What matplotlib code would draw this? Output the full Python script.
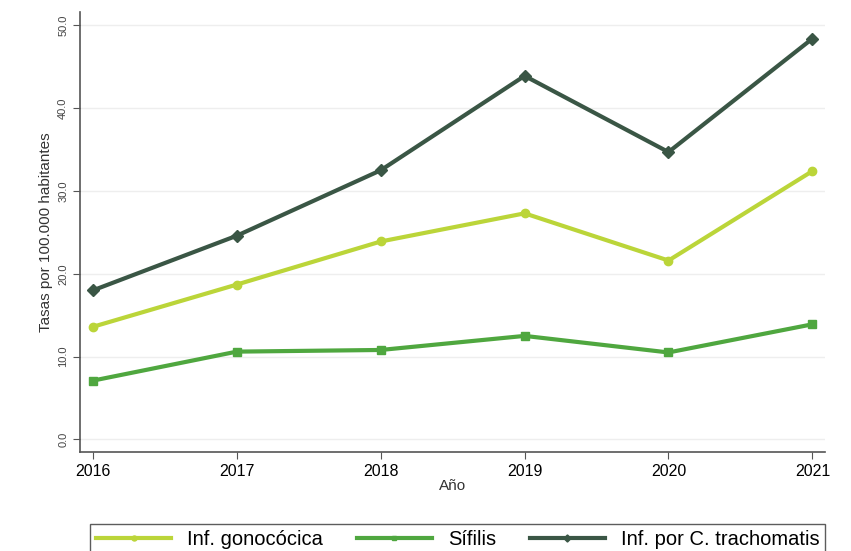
import numpy as np
import matplotlib
matplotlib.use('Agg')
from matplotlib import pyplot as plt

plt.rcParams['font.family'] = ['Liberation Sans Narrow', 'Liberation Sans', 'DejaVu Sans']

anios = [2016, 2017, 2018, 2019, 2020, 2021]
gonococica = [13.6, 18.7, 23.9, 27.3, 21.6, 32.4]
sifilis = [7.1, 10.6, 10.8, 12.5, 10.5, 13.9]
trachomatis = [18.0, 24.6, 32.5, 43.9, 34.7, 48.4]

series = [
    ('Inf. gonocócica', gonococica, '#bbd539', 'o'),
    ('Sífilis', sifilis, '#4fa73f', 's'),
    ('Inf. por C. trachomatis', trachomatis, '#3a5645', 'D'),
]

fig = plt.figure(figsize=(8.51, 5.51), dpi=100)
ax = fig.add_axes([0.094, 0.18, 0.875, 0.798])

for nombre, valores, color, marca in series:
    ax.plot(anios, valores, color=color, lw=3, marker=marca, ms=6,
            label=nombre)

ax.set_ylim(-1.5, 51.6)
ax.set_xlim(2015.91, 2021.085)
ax.set_yticks([0, 10, 20, 30, 40, 50])
ax.set_yticklabels(['0.0', '10.0', '20.0', '30.0', '40.0', '50.0'],
                   rotation=90, va='center', fontsize=8, color='#444444')
ax.set_xticks(anios)
ax.tick_params(axis='x', labelsize=11.5, length=5, color='#555555')
ax.tick_params(axis='y', length=5, color='#555555')
ax.grid(axis='y', color='#eeeeee', lw=1)
ax.set_axisbelow(True)
for s in ['top', 'right']:
    ax.spines[s].set_visible(False)
for s in ['left', 'bottom']:
    ax.spines[s].set_color('#555555')
    ax.spines[s].set_linewidth(1.2)

ax.set_ylabel('Tasas por 100.000 habitantes', fontsize=11, color='#333333')
ax.set_xlabel('Año', fontsize=11, color='#333333', labelpad=0)

leg = fig.legend(loc='upper center', bbox_to_anchor=(0.538, 0.068), ncol=3,
                 fontsize=14.5, frameon=True, fancybox=False, edgecolor='#333333',
                 handlelength=3.7, markerscale=0.6, columnspacing=1.7,
                 borderpad=0.3)
leg.get_frame().set_linewidth(1)

fig.savefig('out.png', dpi=100)
